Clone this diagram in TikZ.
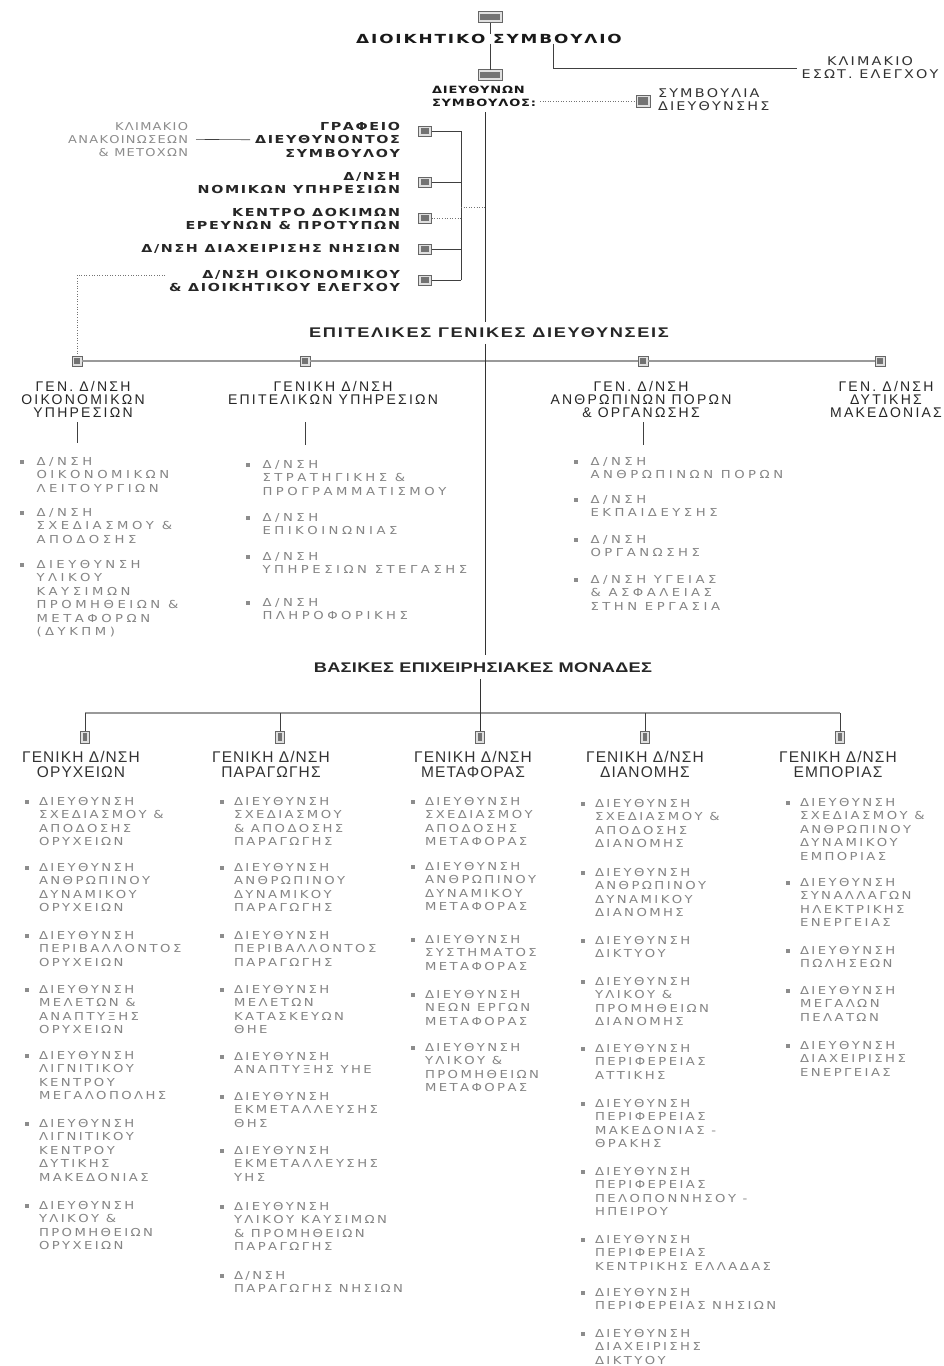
\documentclass[tikz,border=0pt]{standalone}
\usepackage{fontspec}
\usetikzlibrary{calc}
\setmainfont{DejaVu Sans}
\newfontfamily\fWide[LetterSpace=15,FakeStretch=1.35]{DejaVu Sans}
\newfontfamily\fStaff[LetterSpace=15,FakeStretch=1.3]{DejaVu Sans}
\newfontfamily\fDs[LetterSpace=8,FakeStretch=1.3]{DejaVu Sans}
\newfontfamily\fReg[LetterSpace=18,FakeStretch=1.2]{DejaVu Sans}
\newfontfamily\fGray[LetterSpace=12,FakeStretch=1.2]{DejaVu Sans}
\newfontfamily\fGrayB[LetterSpace=22,FakeStretch=1.2]{DejaVu Sans}
\newfontfamily\fGrayT[LetterSpace=32,FakeStretch=1.2]{DejaVu Sans}
\newfontfamily\fHd[LetterSpace=16]{Liberation Sans}
\newfontfamily\fHdb[LetterSpace=7]{Liberation Sans}
\newfontfamily\fSec[LetterSpace=12,FakeStretch=1.3]{Liberation Sans}
\newfontfamily\fSecB[LetterSpace=2,FakeStretch=1.3]{Liberation Sans}
% bottom-column bullet item
\newcommand{\bli}[4]{%
  \node[bsq] (#1b) at (#2,#3) {};
  \node[gitem] (#1) at (#2+12,#3-4.6) {#4};
}
% top-column bullet item
\newcommand{\blt}[4]{%
  \node[bsq] (#1b) at (#2,#3) {};
  \node[gitemt] (#1) at (#2+14.5,#3-4.6) {#4};
}
\begin{document}
\begin{tikzpicture}[x=1pt,y=-1pt,
  every node/.style={inner sep=0pt,outer sep=0pt},
  ttl/.style={font=\fWide\bfseries\fontsize{12.5}{14}\selectfont,text=black!90},
  staff/.style={font=\fStaff\bfseries\fontsize{11}{13.6}\selectfont,text=black!85,align=right,anchor=north east},
  dsn/.style={font=\fDs\bfseries\fontsize{10}{13}\selectfont,text=black!90,align=left,anchor=north west},
  reg/.style={font=\fReg\fontsize{12}{12.8}\selectfont,text=black!80},
  gstaff/.style={font=\fGray\fontsize{10.8}{13.3}\selectfont,text=black!45,align=right,anchor=north east},
  gitem/.style={font=\fGrayB\fontsize{11}{13.4}\selectfont,text=black!48,align=left,anchor=north west},
  gitemt/.style={font=\fGrayT\fontsize{11}{13.4}\selectfont,text=black!48,align=left,anchor=north west},
  bsq/.style={fill=black!45,minimum size=3.4pt},
  hd/.style={font=\fHd\fontsize{14}{13.4}\selectfont,text=black!85,align=center,anchor=north},
  hdb/.style={font=\fHdb\fontsize{15.5}{15.5}\selectfont,text=black!80,align=center,anchor=north},
  sec/.style={font=\fSec\bfseries\fontsize{14}{15}\selectfont,text=black!85},
  secb/.style={font=\fSecB\bfseries\fontsize{14}{15}\selectfont,text=black!85},
  iconbase/.style={draw=black!60,line width=0.6pt,fill=black!12,
    path picture={\fill[black!55] ($(path picture bounding box.north west)+(2.2,2.2)$) rectangle ($(path picture bounding box.south east)+(-2.2,-2.2)$);}},
  bigicon/.style={iconbase,minimum width=24pt,minimum height=11pt},
  sicon/.style={iconbase,minimum width=13pt,minimum height=10pt},
  eicon/.style={iconbase,minimum width=10pt,minimum height=10pt},
  micon/.style={iconbase,minimum width=9pt,minimum height=12pt},
  ln/.style={draw=black!75,line width=0.6pt},
  mainln/.style={draw=black!80,line width=0.8pt},
  busln/.style={draw=black!40,line width=1.3pt},
  dotln/.style={draw=black!55,line width=0.6pt,dotted}
]
\useasboundingbox (0,0) rectangle (943,1366);
\fill[white] (0,0) rectangle (943,1366);

% ---------- top ----------
\node[bigicon] (ic1) at (490,17) {};
\node[ttl] (t1) at (489,39) {ΔΙΟΙΚΗΤΙΚΟ ΣΥΜΒΟΥΛΙΟ};
\node[bigicon] (ic2) at (490,75) {};
\node[dsn] (ds) at (432,86) {ΔΙΕΥΘΥΝΩΝ\\ΣΥΜΒΟΥΛΟΣ:};
\node[reg,align=center] (klim) at (870,68) {ΚΛΙΜΑΚΙΟ\\ΕΣΩΤ. ΕΛΕΓΧΟΥ};
\node[sicon,minimum width=14pt,minimum height=12pt] (icsd) at (643,101) {};
\node[reg,align=left,anchor=north west] (sd) at (658,89) {ΣΥΜΒΟΥΛΙΑ\\ΔΙΕΥΘΥΝΣΗΣ};
\coordinate (klx) at (553,0);
\coordinate (mx) at (485,0);
\coordinate (mtop) at (485,112);

\draw[ln] (ic1.south) -- (ic1.south |- t1.north);
\draw[ln] (ic2.north |- t1.south) -- (ic2.north);
\draw[ln] (klx |- t1.south) |- ([xshift=-5pt]klim.west);
\draw[dotln] ([xshift=4pt]ds.east |- icsd.west) -- (icsd.west);

% ---------- staff ----------
\node[staff] (s1) at (400,122) {ΓΡΑΦΕΙΟ\\ΔΙΕΥΘΥΝΟΝΤΟΣ\\ΣΥΜΒΟΥΛΟΥ};
\node[staff] (s2) at (400,172) {Δ/ΝΣΗ\\ΝΟΜΙΚΩΝ ΥΠΗΡΕΣΙΩΝ};
\node[staff] (s3) at (400,208) {ΚΕΝΤΡΟ ΔΟΚΙΜΩΝ\\ΕΡΕΥΝΩΝ \& ΠΡΟΤΥΠΩΝ};
\node[staff] (s4) at (400,244) {Δ/ΝΣΗ ΔΙΑΧΕΙΡΙΣΗΣ ΝΗΣΙΩΝ};
\node[staff] (s5) at (400,270) {Δ/ΝΣΗ ΟΙΚΟΝΟΜΙΚΟΥ\\\& ΔΙΟΙΚΗΤΙΚΟΥ ΕΛΕΓΧΟΥ};
\node[gstaff] (klan) at (188,122) {ΚΛΙΜΑΚΙΟ\\ΑΝΑΚΟΙΝΩΣΕΩΝ\\\& ΜΕΤΟΧΩΝ};
\node[sicon] (si1) at (425,131) {};
\node[sicon] (si2) at (425,182) {};
\node[sicon] (si3) at (425,218) {};
\node[sicon] (si4) at (425,249) {};
\node[sicon] (si5) at (425,280) {};
\coordinate (brx) at (461,0);
\coordinate (brj) at (461,207);
\draw[ln] ([xshift=8pt]klan.east) -- ([xshift=-5pt]s1.west);
\draw[ln] (si1.east) -- (si1.east -| brx);
\draw[ln] (si2.east) -- (si2.east -| brx);
\draw[dotln] (si3.east) -- (si3.east -| brx);
\draw[ln] (si4.east) -- (si4.east -| brx);
\draw[ln] (si5.east) -- (si5.east -| brx);
\draw[ln] (si1.east -| brx) -- (si5.east -| brx);
\draw[dotln] (brj) -- (brj -| mx);

% ---------- staff general directorates ----------
\node[sec] (ep) at (489,333) {ΕΠΙΤΕΛΙΚΕΣ ΓΕΝΙΚΕΣ ΔΙΕΥΘΥΝΣΕΙΣ};
\draw[mainln] (mtop) -- ($(mtop |- ep.north)+(0,-6)$);

\node[eicon] (e1) at (77,361) {};
\node[eicon] (e2) at (305,361) {};
\node[eicon] (e3) at (643,361) {};
\node[eicon] (e4) at (880,361) {};
\draw[busln] (e1.east) -- (e2.west) (e2.east) -- (e3.west) (e3.east) -- (e4.west);
\coordinate (dd) at (165,275);
\draw[dotln] (dd) -| (e1.north);

\node[hd] (h1) at (83,381) {ΓΕΝ. Δ/ΝΣΗ\\ΟΙΚΟΝΟΜΙΚΩΝ\\ΥΠΗΡΕΣΙΩΝ};
\node[hd] (h2) at (333,381) {ΓΕΝΙΚΗ Δ/ΝΣΗ\\ΕΠΙΤΕΛΙΚΩΝ ΥΠΗΡΕΣΙΩΝ};
\node[hd] (h3) at (641,381) {ΓΕΝ. Δ/ΝΣΗ\\ΑΝΘΡΩΠΙΝΩΝ ΠΟΡΩΝ\\\& ΟΡΓΑΝΩΣΗΣ};
\node[hd] (h4) at (886,381) {ΓΕΝ. Δ/ΝΣΗ\\ΔΥΤΙΚΗΣ\\ΜΑΚΕΔΟΝΙΑΣ};
\coordinate (t1a) at (77,422);  \coordinate (t1b) at (77,443);
\coordinate (t2a) at (305,422); \coordinate (t2b) at (305,445);
\coordinate (t3a) at (643,422); \coordinate (t3b) at (643,445);
\draw[ln] (t1a) -- (t1b);
\draw[ln] (t2a) -- (t2b);
\draw[ln] (t3a) -- (t3b);

\blt{c1a}{22}{462}{Δ/ΝΣΗ\\ΟΙΚΟΝΟΜΙΚΩΝ\\ΛΕΙΤΟΥΡΓΙΩΝ}
\blt{c1b}{22}{513}{Δ/ΝΣΗ\\ΣΧΕΔΙΑΣΜΟΥ \&\\ΑΠΟΔΟΣΗΣ}
\blt{c1c}{22}{565}{ΔΙΕΥΘΥΝΣΗ\\ΥΛΙΚΟΥ\\ΚΑΥΣΙΜΩΝ\\ΠΡΟΜΗΘΕΙΩΝ \&\\ΜΕΤΑΦΟΡΩΝ\\(ΔΥΚΠΜ)}
\blt{c2a}{248}{465}{Δ/ΝΣΗ\\ΣΤΡΑΤΗΓΙΚΗΣ \&\\ΠΡΟΓΡΑΜΜΑΤΙΣΜΟΥ}
\blt{c2b}{248}{518}{Δ/ΝΣΗ\\ΕΠΙΚΟΙΝΩΝΙΑΣ}
\blt{c2c}{248}{557}{Δ/ΝΣΗ\\ΥΠΗΡΕΣΙΩΝ ΣΤΕΓΑΣΗΣ}
\blt{c2d}{248}{603}{Δ/ΝΣΗ\\ΠΛΗΡΟΦΟΡΙΚΗΣ}
\blt{c3a}{576}{462}{Δ/ΝΣΗ\\ΑΝΘΡΩΠΙΝΩΝ ΠΟΡΩΝ}
\blt{c3b}{576}{500}{Δ/ΝΣΗ\\ΕΚΠΑΙΔΕΥΣΗΣ}
\blt{c3c}{576}{540}{Δ/ΝΣΗ\\ΟΡΓΑΝΩΣΗΣ}
\blt{c3d}{576}{580}{Δ/ΝΣΗ ΥΓΕΙΑΣ\\\& ΑΣΦΑΛΕΙΑΣ\\ΣΤΗΝ ΕΡΓΑΣΙΑ}

% ---------- core business units ----------
\node[secb] (bv) at (483,668) {ΒΑΣΙΚΕΣ ΕΠΙΧΕΙΡΗΣΙΑΚΕΣ ΜΟΝΑΔΕΣ};
\draw[mainln] ($(mtop |- ep.south)+(0,6)$) -- ($(mtop |- bv.north)+(0,-8)$);

\node[micon] (m1) at (85,737) {};
\node[micon] (m2) at (280,737) {};
\node[micon] (m3) at (480,737) {};
\node[micon] (m4) at (645,737) {};
\node[micon] (m5) at (840,737) {};
\coordinate (busy) at (0,713);
\draw[busln] (m1.north |- busy) -- (m5.north |- busy);
\draw[ln] (m1.north |- busy) -- (m1.north);
\draw[ln] (m2.north |- busy) -- (m2.north);
\draw[ln] (m4.north |- busy) -- (m4.north);
\draw[ln] (m5.north |- busy) -- (m5.north);
\draw[mainln] ($(m3.north |- bv.south)+(0,6)$) -- (m3.north);

\node[hdb] (g1) at (81,751) {ΓΕΝΙΚΗ Δ/ΝΣΗ\\ΟΡΥΧΕΙΩΝ};
\node[hdb] (g2) at (271,751) {ΓΕΝΙΚΗ Δ/ΝΣΗ\\ΠΑΡΑΓΩΓΗΣ};
\node[hdb] (g3) at (473,751) {ΓΕΝΙΚΗ Δ/ΝΣΗ\\ΜΕΤΑΦΟΡΑΣ};
\node[hdb] (g4) at (645,751) {ΓΕΝΙΚΗ Δ/ΝΣΗ\\ΔΙΑΝΟΜΗΣ};
\node[hdb] (g5) at (838,751) {ΓΕΝΙΚΗ Δ/ΝΣΗ\\ΕΜΠΟΡΙΑΣ};

% column 1
\bli{b1a}{27}{802}{ΔΙΕΥΘΥΝΣΗ\\ΣΧΕΔΙΑΣΜΟΥ \&\\ΑΠΟΔΟΣΗΣ\\ΟΡΥΧΕΙΩΝ}
\bli{b1b}{27}{868}{ΔΙΕΥΘΥΝΣΗ\\ΑΝΘΡΩΠΙΝΟΥ\\ΔΥΝΑΜΙΚΟΥ\\ΟΡΥΧΕΙΩΝ}
\bli{b1c}{27}{936}{ΔΙΕΥΘΥΝΣΗ\\ΠΕΡΙΒΑΛΛΟΝΤΟΣ\\ΟΡΥΧΕΙΩΝ}
\bli{b1d}{27}{990}{ΔΙΕΥΘΥΝΣΗ\\ΜΕΛΕΤΩΝ \&\\ΑΝΑΠΤΥΞΗΣ\\ΟΡΥΧΕΙΩΝ}
\bli{b1e}{27}{1056}{ΔΙΕΥΘΥΝΣΗ\\ΛΙΓΝΙΤΙΚΟΥ\\ΚΕΝΤΡΟΥ\\ΜΕΓΑΛΟΠΟΛΗΣ}
\bli{b1f}{27}{1124}{ΔΙΕΥΘΥΝΣΗ\\ΛΙΓΝΙΤΙΚΟΥ\\ΚΕΝΤΡΟΥ\\ΔΥΤΙΚΗΣ\\ΜΑΚΕΔΟΝΙΑΣ}
\bli{b1g}{27}{1206}{ΔΙΕΥΘΥΝΣΗ\\ΥΛΙΚΟΥ \&\\ΠΡΟΜΗΘΕΙΩΝ\\ΟΡΥΧΕΙΩΝ}
% column 2
\bli{b2a}{222}{802}{ΔΙΕΥΘΥΝΣΗ\\ΣΧΕΔΙΑΣΜΟΥ\\\& ΑΠΟΔΟΣΗΣ\\ΠΑΡΑΓΩΓΗΣ}
\bli{b2b}{222}{868}{ΔΙΕΥΘΥΝΣΗ\\ΑΝΘΡΩΠΙΝΟΥ\\ΔΥΝΑΜΙΚΟΥ\\ΠΑΡΑΓΩΓΗΣ}
\bli{b2c}{222}{936}{ΔΙΕΥΘΥΝΣΗ\\ΠΕΡΙΒΑΛΛΟΝΤΟΣ\\ΠΑΡΑΓΩΓΗΣ}
\bli{b2d}{222}{990}{ΔΙΕΥΘΥΝΣΗ\\ΜΕΛΕΤΩΝ\\ΚΑΤΑΣΚΕΥΩΝ\\ΘΗΕ}
\bli{b2e}{222}{1057}{ΔΙΕΥΘΥΝΣΗ\\ΑΝΑΠΤΥΞΗΣ ΥΗΕ}
\bli{b2f}{222}{1097}{ΔΙΕΥΘΥΝΣΗ\\ΕΚΜΕΤΑΛΛΕΥΣΗΣ\\ΘΗΣ}
\bli{b2g}{222}{1151}{ΔΙΕΥΘΥΝΣΗ\\ΕΚΜΕΤΑΛΛΕΥΣΗΣ\\ΥΗΣ}
\bli{b2h}{222}{1207}{ΔΙΕΥΘΥΝΣΗ\\ΥΛΙΚΟΥ ΚΑΥΣΙΜΩΝ\\\& ΠΡΟΜΗΘΕΙΩΝ\\ΠΑΡΑΓΩΓΗΣ}
\bli{b2i}{222}{1276}{Δ/ΝΣΗ\\ΠΑΡΑΓΩΓΗΣ ΝΗΣΙΩΝ}
% column 3
\bli{b3a}{413}{802}{ΔΙΕΥΘΥΝΣΗ\\ΣΧΕΔΙΑΣΜΟΥ\\ΑΠΟΔΟΣΗΣ\\ΜΕΤΑΦΟΡΑΣ}
\bli{b3b}{413}{867}{ΔΙΕΥΘΥΝΣΗ\\ΑΝΘΡΩΠΙΝΟΥ\\ΔΥΝΑΜΙΚΟΥ\\ΜΕΤΑΦΟΡΑΣ}
\bli{b3c}{413}{940}{ΔΙΕΥΘΥΝΣΗ\\ΣΥΣΤΗΜΑΤΟΣ\\ΜΕΤΑΦΟΡΑΣ}
\bli{b3d}{413}{995}{ΔΙΕΥΘΥΝΣΗ\\ΝΕΩΝ ΕΡΓΩΝ\\ΜΕΤΑΦΟΡΑΣ}
\bli{b3e}{413}{1048}{ΔΙΕΥΘΥΝΣΗ\\ΥΛΙΚΟΥ \&\\ΠΡΟΜΗΘΕΙΩΝ\\ΜΕΤΑΦΟΡΑΣ}
% column 4
\bli{b4a}{583}{804}{ΔΙΕΥΘΥΝΣΗ\\ΣΧΕΔΙΑΣΜΟΥ \&\\ΑΠΟΔΟΣΗΣ\\ΔΙΑΝΟΜΗΣ}
\bli{b4b}{583}{873}{ΔΙΕΥΘΥΝΣΗ\\ΑΝΘΡΩΠΙΝΟΥ\\ΔΥΝΑΜΙΚΟΥ\\ΔΙΑΝΟΜΗΣ}
\bli{b4c}{583}{941}{ΔΙΕΥΘΥΝΣΗ\\ΔΙΚΤΥΟΥ}
\bli{b4d}{583}{982}{ΔΙΕΥΘΥΝΣΗ\\ΥΛΙΚΟΥ \&\\ΠΡΟΜΗΘΕΙΩΝ\\ΔΙΑΝΟΜΗΣ}
\bli{b4e}{583}{1049}{ΔΙΕΥΘΥΝΣΗ\\ΠΕΡΙΦΕΡΕΙΑΣ\\ΑΤΤΙΚΗΣ}
\bli{b4f}{583}{1104}{ΔΙΕΥΘΥΝΣΗ\\ΠΕΡΙΦΕΡΕΙΑΣ\\ΜΑΚΕΔΟΝΙΑΣ -\\ΘΡΑΚΗΣ}
\bli{b4g}{583}{1172}{ΔΙΕΥΘΥΝΣΗ\\ΠΕΡΙΦΕΡΕΙΑΣ\\ΠΕΛΟΠΟΝΝΗΣΟΥ -\\ΗΠΕΙΡΟΥ}
\bli{b4h}{583}{1240}{ΔΙΕΥΘΥΝΣΗ\\ΠΕΡΙΦΕΡΕΙΑΣ\\ΚΕΝΤΡΙΚΗΣ ΕΛΛΑΔΑΣ}
\bli{b4i}{583}{1293}{ΔΙΕΥΘΥΝΣΗ\\ΠΕΡΙΦΕΡΕΙΑΣ ΝΗΣΙΩΝ}
\bli{b4j}{583}{1334}{ΔΙΕΥΘΥΝΣΗ\\ΔΙΑΧΕΙΡΙΣΗΣ\\ΔΙΚΤΥΟΥ}
% column 5
\bli{b5a}{788}{803}{ΔΙΕΥΘΥΝΣΗ\\ΣΧΕΔΙΑΣΜΟΥ \&\\ΑΝΘΡΩΠΙΝΟΥ\\ΔΥΝΑΜΙΚΟΥ\\ΕΜΠΟΡΙΑΣ}
\bli{b5b}{788}{883}{ΔΙΕΥΘΥΝΣΗ\\ΣΥΝΑΛΛΑΓΩΝ\\ΗΛΕΚΤΡΙΚΗΣ\\ΕΝΕΡΓΕΙΑΣ}
\bli{b5c}{788}{951}{ΔΙΕΥΘΥΝΣΗ\\ΠΩΛΗΣΕΩΝ}
\bli{b5d}{788}{991}{ΔΙΕΥΘΥΝΣΗ\\ΜΕΓΑΛΩΝ\\ΠΕΛΑΤΩΝ}
\bli{b5e}{788}{1046}{ΔΙΕΥΘΥΝΣΗ\\ΔΙΑΧΕΙΡΙΣΗΣ\\ΕΝΕΡΓΕΙΑΣ}
\end{tikzpicture}
\end{document}
